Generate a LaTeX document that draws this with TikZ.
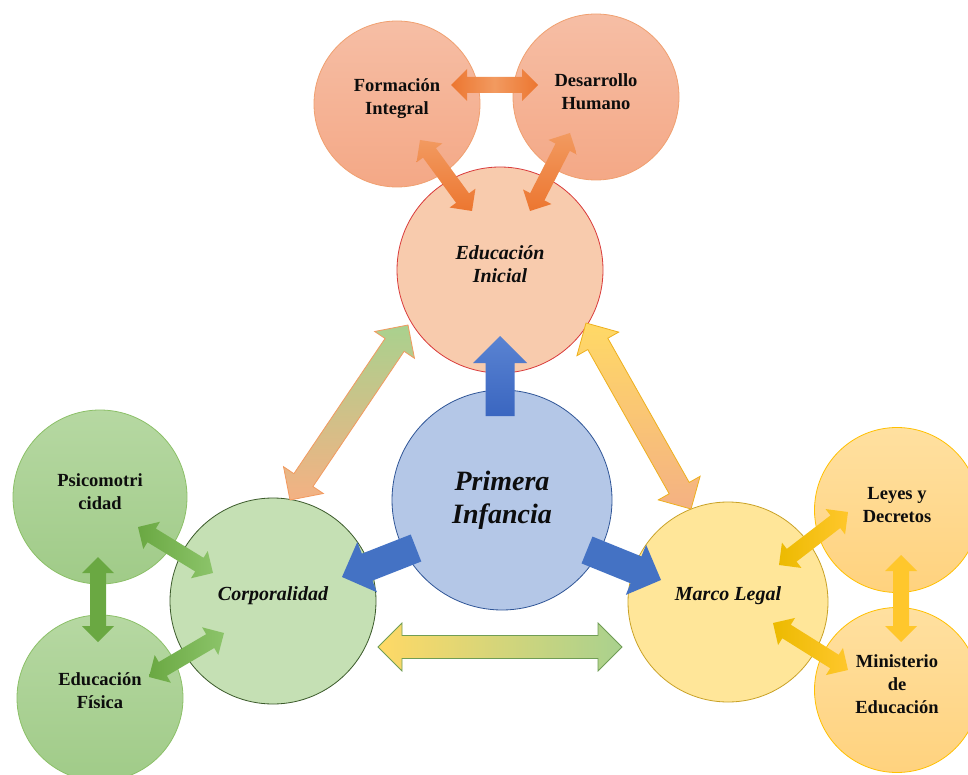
\documentclass[tikz,border=0pt]{standalone}
\usepackage{fontspec}
\setmainfont{Liberation Serif}
\usetikzlibrary{calc}
\definecolor{ink}{HTML}{0D0D0D}
\definecolor{peachT}{HTML}{F6BEA5}
\definecolor{peachB}{HTML}{F4A886}
\definecolor{peachD}{HTML}{F0A070}
\definecolor{eiF}{HTML}{F8CBAD}
\definecolor{eiD}{HTML}{D93A3A}
\definecolor{piF}{HTML}{B4C7E7}
\definecolor{piD}{HTML}{2F5597}
\definecolor{coF}{HTML}{C5E0B4}
\definecolor{coD}{HTML}{3B5A2A}
\definecolor{grT}{HTML}{B6D8A2}
\definecolor{grB}{HTML}{A0CB88}
\definecolor{grD}{HTML}{8CC068}
\definecolor{mlF}{HTML}{FFE699}
\definecolor{mlD}{HTML}{C9A227}
\definecolor{ylT}{HTML}{FFE0A0}
\definecolor{ylB}{HTML}{FFD27E}
\definecolor{ylD}{HTML}{FFC000}
\definecolor{orD}{HTML}{EC7630}
\definecolor{orL}{HTML}{F29A60}
\definecolor{gnD}{HTML}{6AA842}
\definecolor{gnL}{HTML}{8CC46A}
\definecolor{yeD}{HTML}{ECBA00}
\definecolor{yeL}{HTML}{FFC72C}
\definecolor{blA}{HTML}{5A83D2}
\definecolor{blB}{HTML}{3A66C0}
\definecolor{blC}{HTML}{4472C4}
\definecolor{lgreen}{HTML}{A9D18E}
\definecolor{lorange}{HTML}{F4B183}
\definecolor{lyellow}{HTML}{FFD966}
\newcommand\darr[6]{\path[#1] (#2) -- ($(#2)!#6!(#3)!#5!90:(#3)$) -- ($(#2)!#6!(#3)!#4!90:(#3)$)
  -- ($(#3)!#6!(#2)!#4!-90:(#2)$) -- ($(#3)!#6!(#2)!#5!-90:(#2)$) -- (#3)
  -- ($(#3)!#6!(#2)!#5!90:(#2)$) -- ($(#3)!#6!(#2)!#4!90:(#2)$)
  -- ($(#2)!#6!(#3)!#4!-90:(#3)$) -- ($(#2)!#6!(#3)!#5!-90:(#3)$) -- cycle;}
\newcommand\sarr[6]{\path[#1] ($(#2)!#4!90:(#3)$) -- ($(#3)!#6!(#2)!#4!-90:(#2)$)
  -- ($(#3)!#6!(#2)!#5!-90:(#2)$) -- (#3) -- ($(#3)!#6!(#2)!#5!90:(#2)$)
  -- ($(#3)!#6!(#2)!#4!90:(#2)$) -- ($(#2)!#4!-90:(#3)$) -- cycle;}
\def\smallarr#1#2#3{\darr{#1}{#2}{#3}{8pt}{16pt}{16pt}}
\def\bigarr#1#2#3{\darr{#1}{#2}{#3}{11.5pt}{24pt}{24pt}}
\def\bluearr#1#2#3{\sarr{#1}{#2}{#3}{14.5pt}{27pt}{27pt}}

\begin{document}
\begin{tikzpicture}[x=1pt,y=-1pt,
    bub/.style={circle,minimum size=#1,inner sep=0pt,line width=0.8pt},
    tx/.style={align=center,text=ink,font=\fontsize{18.5}{23}\selectfont\bfseries},
    tm/.style={align=center,text=ink,font=\fontsize{20}{23}\selectfont\bfseries\itshape}]
  \path[use as bounding box,fill=white] (0,0) rectangle (968,775);

  \node[bub=166pt,top color=peachT,bottom color=peachB,draw=peachD] (FI) at (397,104) {};
  \node[bub=166pt,top color=peachT,bottom color=peachB,draw=peachD] (DH) at (596,97) {};
  \node[bub=206pt,fill=eiF,draw=eiD] (EI) at (500,270) {};
  \node[bub=220pt,fill=piF,draw=piD,align=center,text=ink,
        font=\fontsize{28}{33}\selectfont\bfseries\itshape] (PI) at (502,500) {Primera\\Infancia};
  \node[bub=206pt,fill=coF,draw=coD] (CO) at (273,601) {};
  \node[bub=174pt,top color=grT,bottom color=grB,draw=grD] (PS) at (100,497) {};
  \node[bub=166pt,top color=grT,bottom color=grB,draw=grD] (EF) at (100,698) {};
  \node[bub=200pt,fill=mlF,draw=mlD] (ML) at (728,602) {};
  \node[bub=165pt,top color=ylT,bottom color=ylB,draw=ylD] (LD) at (897,510) {};
  \node[bub=165pt,top color=ylT,bottom color=ylB,draw=ylD] (ME) at (897,690) {};

  \node[tx] (FIt) at ([yshift=5pt]FI) {Formación\\Integral};
  \node[tx] (DHt) at ([yshift=5pt]DH) {Desarrollo\\Humano};
  \node[tm] (EIt) at ([yshift=6pt]EI) {Educación\\Inicial};
  \node[tm] (COt) at ([yshift=5pt]CO) {Corporalidad};
  \node[tx] (PSt) at ([yshift=5pt]PS) {Psicomotri\\cidad};
  \node[tx] (EFt) at ([yshift=7pt]EF) {Educación\\Física};
  \node[tm] (MLt) at ([yshift=6pt]ML) {Marco Legal};
  \node[tx] (LDt) at ([yshift=5pt]LD) {Leyes y\\Decretos};
  \node[tx] (MEt) at ([yshift=6pt]ME) {Ministerio\\de\\Educación};

  \coordinate (fia) at (451,85);  \coordinate (dha) at (538,85);
  \coordinate (fib) at (420,140); \coordinate (eia) at (472,211);
  \coordinate (dhb) at (570,133); \coordinate (eib) at (530,211);
  \coordinate (psa) at (138,527); \coordinate (coa) at (213,573);
  \coordinate (psb) at (98,557);  \coordinate (efa) at (98,642);
  \coordinate (efb) at (149,677); \coordinate (cob) at (224,633);
  \coordinate (mla) at (779,565); \coordinate (lda) at (848,512);
  \coordinate (ldb) at (901,555); \coordinate (mea) at (901,642);
  \coordinate (mlb) at (773,623); \coordinate (meb) at (848,670);
  \coordinate (coc) at (290,500); \coordinate (eic) at (408,325);
  \coordinate (eid) at (586,323); \coordinate (mlc) at (691,509);
  \coordinate (cod) at (378,647); \coordinate (mld) at (622,647);
  \coordinate (pia) at (500,416); \coordinate (eie) at (500,336);
  \coordinate (pib) at (416,548); \coordinate (coe) at (342,577);
  \coordinate (pic) at (587,550); \coordinate (mle) at (661,580);

  \smallarr{left color=orD,right color=orD,middle color=orL}{fia}{dha}
  \smallarr{top color=orL,bottom color=orD}{fib}{eia}
  \smallarr{top color=orL,bottom color=orD}{dhb}{eib}
  \smallarr{left color=gnD,right color=gnL}{psa}{coa}
  \smallarr{fill=gnD}{psb}{efa}
  \smallarr{left color=gnD,right color=gnL}{efb}{cob}
  \smallarr{left color=yeD,right color=yeL}{mla}{lda}
  \smallarr{fill=yeL}{ldb}{mea}
  \smallarr{left color=yeD,right color=yeL}{mlb}{meb}

  \bigarr{top color=lgreen,bottom color=lorange,draw=orL,line width=0.8pt}{coc}{eic}
  \bigarr{top color=lyellow,bottom color=lorange,draw=yeD!70!orL,line width=0.8pt}{eid}{mlc}
  \bigarr{left color=lyellow,right color=lgreen,draw=gnL!80!black,line width=0.8pt}{cod}{mld}

  \bluearr{top color=blA,bottom color=blB}{pia}{eie}
  \bluearr{fill=blC}{pib}{coe}
  \bluearr{fill=blC}{pic}{mle}
\end{tikzpicture}
\end{document}
